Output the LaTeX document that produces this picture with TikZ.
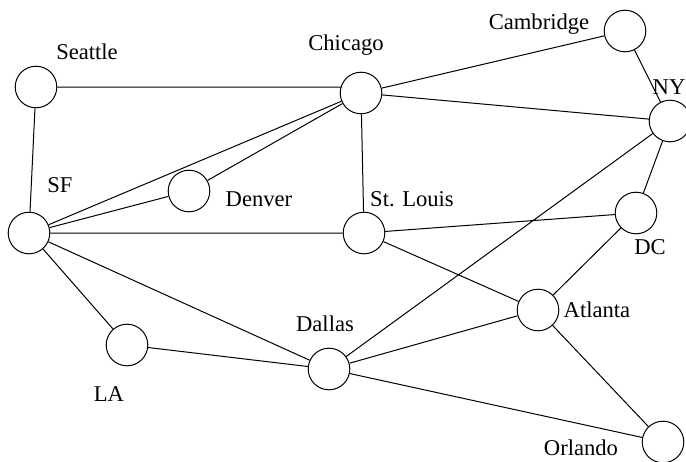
\documentclass[tikz,border=0pt]{standalone}
\usepackage{fontspec}
\setmainfont{Liberation Serif}
\begin{document}
\begin{tikzpicture}[x=0.5pt, y=-0.5pt, line join=round, line width=0.5pt,
    font=\fontsize{11.3}{13}\selectfont,
    city/.style={circle, draw, inner sep=0pt, minimum size=20.8pt},
    lbl/.style={inner sep=0pt}]
  \useasboundingbox (0,0) rectangle (686,461);
  % cities
  \node[city] (sea) at (36,87) {};
  \node[city] (chi) at (361,93) {};
  \node[city] (cam) at (625,31) {};
  \node[city] (ny)  at (670,121) {};
  \node[city] (sf)  at (29,233) {};
  \node[city] (den) at (189,191) {};
  \node[city] (stl) at (364,233) {};
  \node[city] (dc)  at (636,213) {};
  \node[city] (la)  at (127,345) {};
  \node[city] (dal) at (329,369) {};
  \node[city] (atl) at (538,310) {};
  \node[city] (orl) at (663,442) {};
  % names
  \node[lbl] (seaname) at (87,52)  {Seattle};
  \node[lbl] (chiname) at (346,45) {Chicago};
  \node[lbl] (camname) at (539,24) {Cambridge};
  \node[lbl] (nyname)  at (669,87) {NY};
  \node[lbl] (sfname)  at (60,185) {SF};
  \node[lbl] (denname) at (259,199) {Denver};
  \node[lbl] (stlname) at (412,199) {St. Louis};
  \node[lbl] (dcname)  at (650,247) {DC};
  \node[lbl] (laname)  at (109,394) {LA};
  \node[lbl] (dalname) at (325,324) {Dallas};
  \node[lbl] (atlname) at (597,310) {Atlanta};
  \node[lbl] (orlname) at (581,448) {Orlando};
  % links
  \coordinate (chiw) at ([xshift=1pt]sea.east -| chi.west);
  \draw
    (sea.east) -- (chiw)
    (sea) -- (sf)
    (sf) -- (chi)
    (den) -- (chi)
    (sf) -- (den)
    (chi) -- (stl)
    (chi) -- (cam)
    (chi) -- (ny)
    (cam) -- (ny)
    (ny) -- (dc)
    (ny) -- (dal)
    (sf) -- (stl)
    (stl) -- (dc)
    (stl) -- (atl)
    (sf) -- (la)
    (sf) -- (dal)
    (la) -- (dal)
    (dal) -- (atl)
    (dal) -- (orl)
    (atl) -- (dc)
    (atl) -- (orl)
    ;
\end{tikzpicture}
\end{document}
